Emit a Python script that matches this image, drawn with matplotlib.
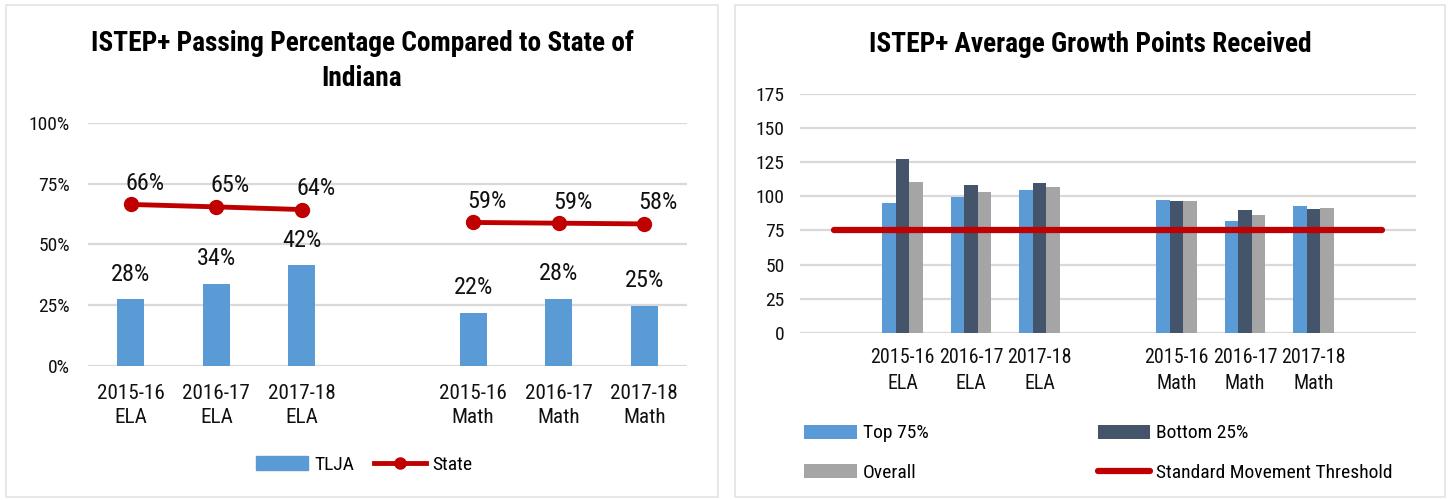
import numpy as np
import matplotlib
matplotlib.use("Agg")
import matplotlib.pyplot as plt
from matplotlib.patches import Rectangle, Patch
from matplotlib.lines import Line2D

# Daten linkes Diagramm (Lücke zwischen ELA und Math als leere Kategorie)
pass_categories = ["2015-16\nELA", "2016-17\nELA", "2017-18\nELA", "",
                   "2015-16\nMath", "2016-17\nMath", "2017-18\nMath"]
tlja_pass = [0.275, 0.338, 0.415, np.nan, 0.218, 0.277, 0.248]
state_pass = [0.664, 0.654, 0.643, np.nan, 0.590, 0.587, 0.584]

# Daten rechtes Diagramm
growth_categories = ["", "2015-16\nELA", "2016-17\nELA", "2017-18\nELA", "",
                     "2015-16\nMath", "2016-17\nMath", "2017-18\nMath", ""]
top75 = [np.nan, 95.1, 99.3, 104.9, np.nan, 97.1, 82.1, 92.6, np.nan]
bottom25 = [np.nan, 127.0, 108.1, 110.0, np.nan, 96.8, 90.2, 90.9, np.nan]
overall = [np.nan, 110.5, 103.4, 107.1, np.nan, 96.3, 86.3, 91.4, np.nan]
threshold = [75, 75, 75, 75, 75, 75, 75, 75, 75]

BLUE = "#5B9BD5"
DARK = "#44546A"
GRAY = "#A5A5A5"
RED = "#C00000"
GRID = "#D9D9D9"

W, H = 1448, 500
plt.rcParams["font.family"] = ["Roboto Condensed", "PT Sans Narrow", "Liberation Sans", "DejaVu Sans"]

YTICK_FS = 14
XTICK_FS = 15.2
LABEL_FS = 17.5
TITLE_FS = 19.7
LEGEND_FS = 14


def px_rect(x0, y0, x1, y1):
    # Pixelkoordinaten (oben links) -> Figure-Fraktion
    return [x0 / W, 1 - y1 / H, (x1 - x0) / W, (y1 - y0) / H]


def style_axes(ax, xtick_fs=XTICK_FS):
    for s in ax.spines.values():
        s.set_visible(False)
    ax.yaxis.grid(True, color=GRID, linewidth=1.6, zorder=0)
    ax.set_axisbelow(True)
    ax.tick_params(axis="both", length=0, labelcolor="#111111")
    ax.tick_params(axis="y", labelsize=YTICK_FS)
    ax.tick_params(axis="x", labelsize=xtick_fs)


fig = plt.figure(figsize=(W / 100, H / 100), dpi=100)

# Rahmen der beiden Diagramme
for x0, x1 in [(6, 718), (735, 1445)]:
    fig.patches.append(Rectangle((x0 / W, 3 / H), (x1 - x0) / W, 492 / H,
                                 transform=fig.transFigure, fill=False,
                                 edgecolor="#E4E4E4", linewidth=1.2))

# ---------------- linkes Diagramm ----------------
ax1 = fig.add_axes(px_rect(88, 122.7, 687, 366))
style_axes(ax1)
x1 = np.arange(len(pass_categories))
ax1.bar(x1, tlja_pass, width=0.315, color=BLUE, zorder=2)
ax1.plot(x1, state_pass, color=RED, linewidth=3.5, marker="o",
         markersize=10, zorder=3, solid_capstyle="round")
ax1.set_xlim(-0.5, len(pass_categories) - 0.5)
ax1.set_ylim(0, 1)
ax1.set_yticks([0, 0.25, 0.5, 0.75, 1.0])
ax1.set_yticklabels(["0%", "25%", "50%", "75%", "100%"])
ax1.set_xticks(x1)
ax1.set_xticklabels(pass_categories, linespacing=1.3)
ax1.tick_params(axis="x", pad=13)
ax1.tick_params(axis="y", pad=13)

for xi, v in zip(x1, tlja_pass):
    if np.isnan(v):
        continue
    ax1.annotate(f"{v:.0%}", (xi, v), xytext=(0, 25), textcoords="offset pixels",
                 ha="center", va="center", fontsize=LABEL_FS, color="#111111")
for xi, v in zip(x1, state_pass):
    if np.isnan(v):
        continue
    ax1.annotate(f"{v:.0%}", (xi, v), xytext=(14, 21), textcoords="offset pixels",
                 ha="center", va="center", fontsize=LABEL_FS, color="#111111")

fig.text(362 / W, 1 - 61 / H, "ISTEP+ Passing Percentage Compared to State of\nIndiana",
         ha="center", va="center", fontsize=TITLE_FS, fontweight="bold", linespacing=1.35)

leg1 = [Patch(color=BLUE, label="TLJA"),
        Line2D([], [], color=RED, linewidth=3.5, marker="o", markersize=8, label="State")]
ax1.legend(handles=leg1, loc="center", bbox_to_anchor=(364 / W, 1 - 465 / H),
           bbox_transform=fig.transFigure, ncol=2, frameon=False, fontsize=LEGEND_FS,
           handlelength=2.7, handleheight=0.7, handletextpad=0.3, columnspacing=1.0)

# ---------------- rechtes Diagramm ----------------
ax2 = fig.add_axes(px_rect(800, 94, 1416, 332.7))
style_axes(ax2, xtick_fs=14.4)
x2 = np.arange(len(growth_categories))
bw = 0.197
ax2.bar(x2 - bw, top75, width=bw, color=BLUE, zorder=2, label="Top 75%")
ax2.bar(x2, bottom25, width=bw, color=DARK, zorder=2, label="Bottom 25%")
ax2.bar(x2 + bw, overall, width=bw, color=GRAY, zorder=2, label="Overall")
ax2.plot(x2, threshold, color=RED, linewidth=4.5, zorder=3,
         solid_capstyle="round", label="Standard Movement Threshold")
ax2.set_xlim(-0.5, len(growth_categories) - 0.5)
ax2.set_ylim(0, 175)
ax2.set_yticks(range(0, 176, 25))
ax2.set_xticks(x2)
ax2.set_xticklabels(growth_categories, linespacing=1.5)
ax2.tick_params(axis="x", pad=11)
ax2.tick_params(axis="y", pad=11)

fig.text(1090 / W, 1 - 45 / H, "ISTEP+ Average Growth Points Received",
         ha="center", va="center", fontsize=TITLE_FS, fontweight="bold")

h, l = ax2.get_legend_handles_labels()
order = [1, 3, 2, 0]  # Top, Overall, Bottom, Threshold
ax2.legend([h[i] for i in order], [l[i] for i in order], loc="upper left",
           bbox_to_anchor=(787 / W, 1 - 407 / H), bbox_transform=fig.transFigure,
           ncol=2, frameon=False, fontsize=LEGEND_FS, handlelength=2.7, handleheight=0.7,
           handletextpad=0.3, columnspacing=8.7, labelspacing=1.1)

fig.savefig("out.png", dpi=100)
